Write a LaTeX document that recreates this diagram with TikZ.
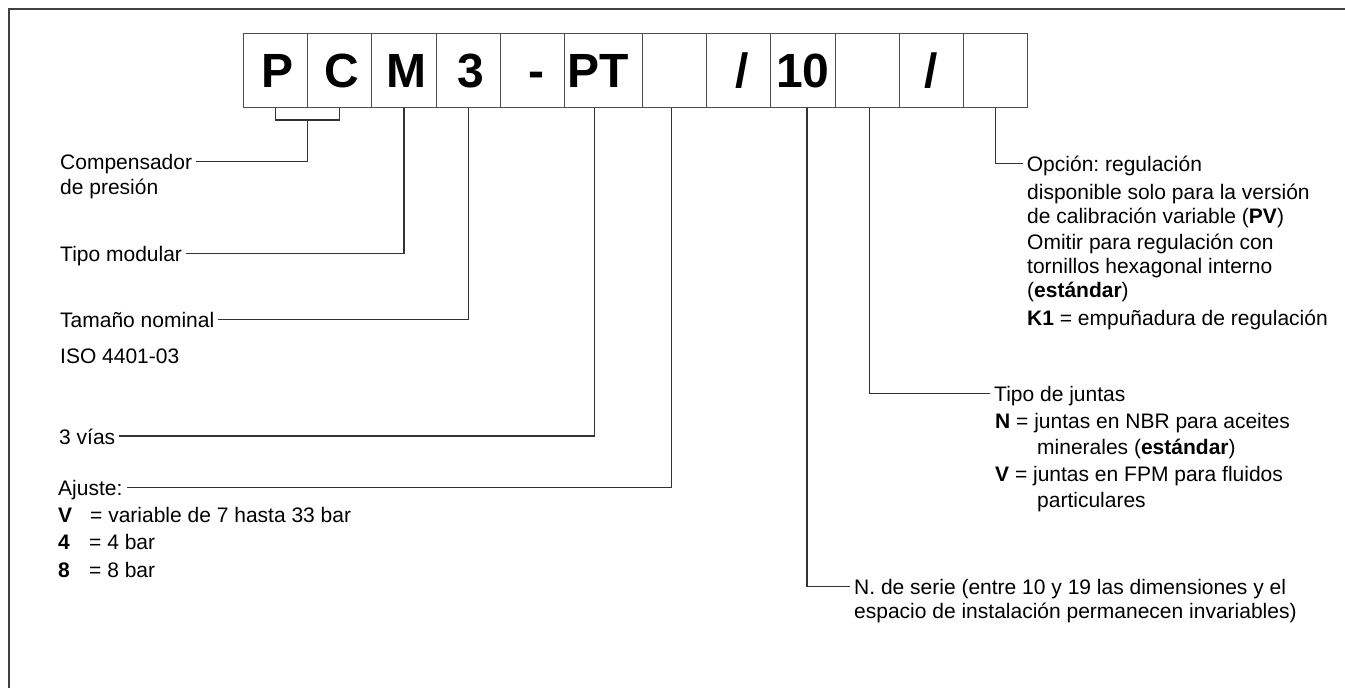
\documentclass[tikz,border=0pt]{standalone}
\usepackage{fontspec}
\setmainfont{Liberation Sans}
\frenchspacing
\begin{document}
\begin{tikzpicture}[x=1pt,y=-1pt,
  frame/.style={draw=black!75, line width=1.8pt},
  codebox/.style={draw=black!70, line width=0.9pt, minimum width=64pt, minimum height=74pt, inner sep=0pt, text height=34pt, text depth=0pt, anchor=north west, font=\fontsize{48}{50}\selectfont\bfseries},
  conn/.style={draw=black!80, line width=1.3pt},
  lbl/.style={inner xsep=4pt, inner ysep=0pt, text height=16pt, text depth=0pt, anchor=west, font=\fontsize{21}{24}\selectfont},
  txt/.style={inner sep=0pt, anchor=base west, font=\fontsize{21}{24}\selectfont}]
\useasboundingbox (0,0) rectangle (1345,688);
\fill[white] (0,0) rectangle (1345,688);
\draw[frame] (9,690) -- (9,9) -- (1347,9);

% code boxes
\node[codebox] (b1) at (243,33) {\hspace*{4pt}P};
\node[codebox] (b2) at (307,33) {\hspace*{4pt}C};
\node[codebox, minimum width=65pt] (b3) at (371,33) {\hspace*{6pt}M};
\node[codebox] (b4) at (436,33) {\hspace*{4pt}3};
\node[codebox] (b5) at (500,33) {\hspace*{8pt}-};
\node[codebox, minimum width=78pt] (b6) at (564,33) {PT\hspace*{10pt}};
\node[codebox] (b7) at (642,33) {};
\node[codebox] (b8) at (706,33) {\hspace*{8pt}/};
\node[codebox, minimum width=65pt] (b9) at (770,33) {10};
\node[codebox] (b10) at (835,33) {};
\node[codebox] (b11) at (899,33) {/};
\node[codebox] (b12) at (963,33) {};

% left labels
\node[lbl] (comp) at (56,161.7) {Compensador};
\node[txt] (pres) at (60,194) {de presión};
\node[lbl] (tipo) at (56,253.3) {Tipo modular};
\node[lbl] (tam) at (56,319.3) {Tamaño nominal};
\node[txt] (iso) at (60,363) {ISO 4401-03};
\node[lbl] (vias) at (55,436) {3 vías};
\node[lbl] (ajuste) at (54,487.7) {Ajuste:};
\node[txt] (ajv) at (58,522) {\makebox[32pt][l]{\bfseries V}= variable de 7 hasta 33 bar};
\node[txt] (aj4) at (58,549) {\makebox[31pt][l]{\bfseries 4}= 4 bar};
\node[txt] (aj8) at (58,577) {\makebox[31pt][l]{\bfseries 8}= 8 bar};

% right labels
\node[lbl] (opcion) at (1022.7,163.3) {Opción: regulación};
\node[txt] (op2) at (1027,199) {disponible solo para la versión};
\node[txt] (op3) at (1027,223) {de calibración variable (\textbf{PV})};
\node[txt] (op4) at (1027,249) {Omitir para regulación con};
\node[txt] (op5) at (1027,273) {tornillos hexagonal interno};
\node[txt] (op6) at (1027,297) {(\textbf{estándar})};
\node[txt] (op7) at (1027,325) {\textbf{K1} = empuñadura de regulación};

\node[lbl] (juntas) at (990,393.3) {Tipo de juntas};
\node[txt] (jn) at (995,428) {\textbf{N} = juntas en NBR para aceites};
\node[txt] (jn2) at (1037,454) {minerales (\textbf{estándar})};
\node[txt] (jv) at (995,481) {\textbf{V} = juntas en FPM para fluidos};
\node[txt] (jv2) at (1037,507) {particulares};

\node[lbl] (serie) at (850,586.4) {N. de serie (entre 10 y 19 las dimensiones y el};
\node[txt] (serie2) at (854,618) {espacio de instalación permanecen invariables)};

% connectors
\draw[conn] (b1.south) -- ++(0,12) -| (b2.south);
\coordinate (brk) at (307.5,119);
\draw[conn] (brk) |- (comp.east);
\draw[conn] (b3.south) |- (tipo.east);
\draw[conn] (b4.south) |- (tam.east);
\draw[conn] ([xshift=-9pt]b6.south) |- (vias.east);
\draw[conn] ([xshift=-3pt]b7.south) |- (ajuste.east);
\draw[conn] ([xshift=4pt]b9.south) |- (serie.west);
\draw[conn] ([xshift=2pt]b10.south) |- (juntas.west);
\draw[conn] (b12.south) |- (opcion.west);
\end{tikzpicture}
\end{document}
